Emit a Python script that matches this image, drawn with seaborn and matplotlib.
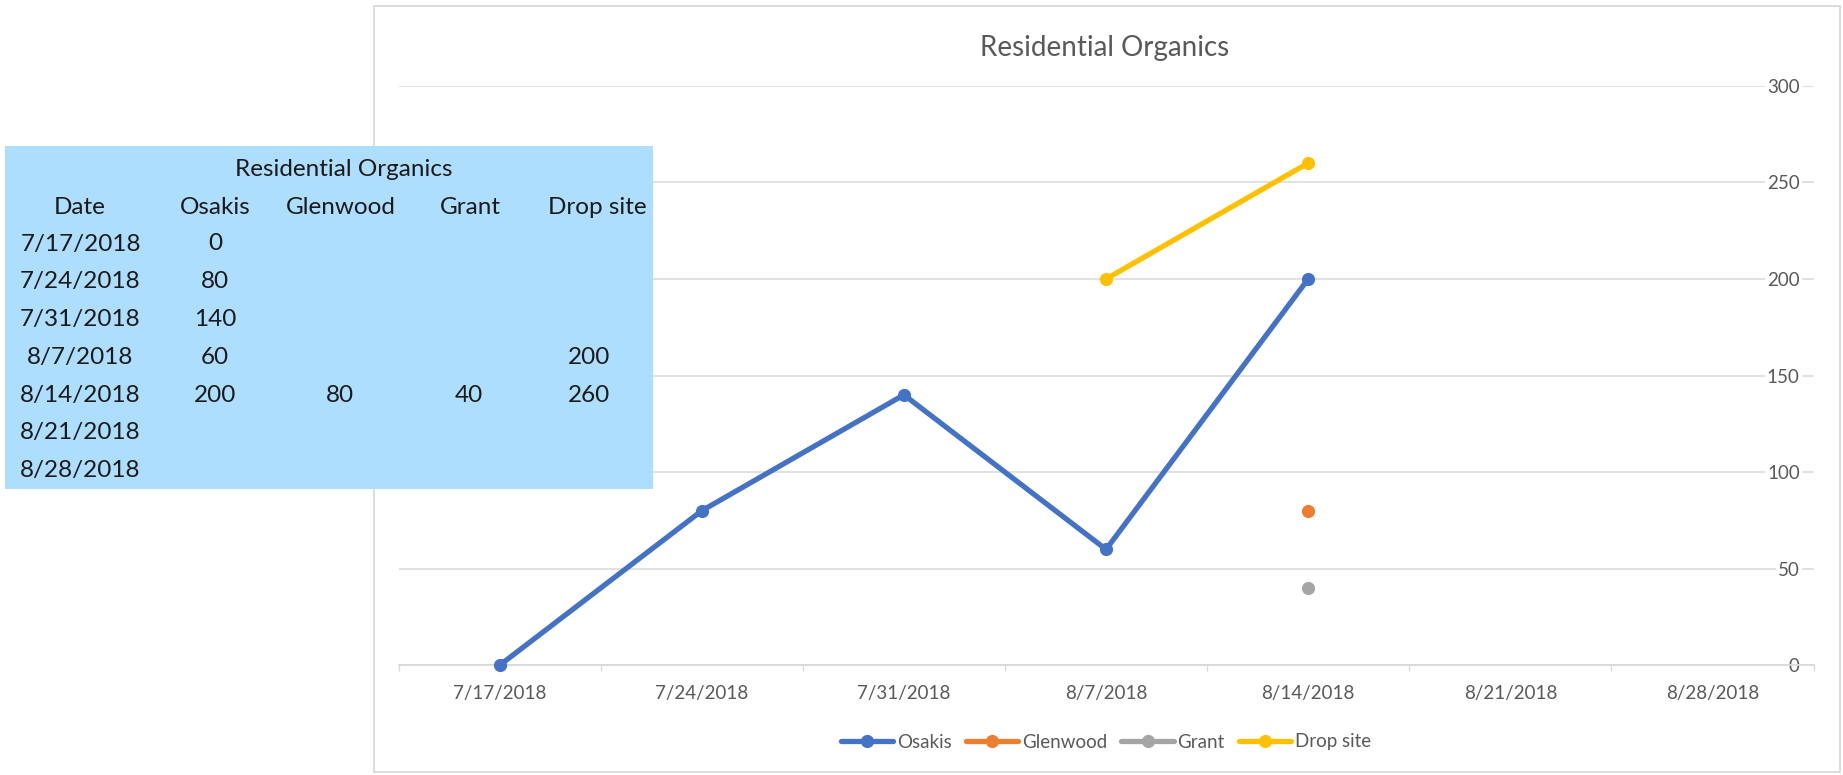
import numpy as np
import pandas as pd
import matplotlib
matplotlib.use("Agg")
import matplotlib.pyplot as plt
import seaborn as sns
from matplotlib.patches import Rectangle
from matplotlib.lines import Line2D

# ---- data ----
title = "Residential Organics"
dates = ["7/17/2018", "7/24/2018", "7/31/2018", "8/7/2018",
         "8/14/2018", "8/21/2018", "8/28/2018"]
osakis = [0, 80, 140, 60, 200, np.nan, np.nan]
glenwood = [np.nan, np.nan, np.nan, np.nan, 80, np.nan, np.nan]
grant = [np.nan, np.nan, np.nan, np.nan, 40, np.nan, np.nan]
drop_site = [np.nan, np.nan, np.nan, 200, 260, np.nan, np.nan]
series_names = ["Osakis", "Glenwood", "Grant", "Drop site"]
y_ticks = [0, 50, 100, 150, 200, 250, 300]

colors = ["#4472C4", "#ED7D31", "#A5A5A5", "#FFC000"]
series_values = [osakis, glenwood, grant, drop_site]

sns.set_theme(style="white")
plt.rcParams["font.family"] = ["Lato", "DejaVu Sans"]

W, H = 1843, 775
fig = plt.figure(figsize=(W / 100, H / 100), dpi=100)
fig.patch.set_facecolor("white")

ax = fig.add_axes([398.5 / W, 1 - 665.3 / H, (1813.6 - 398.5) / W, (665.3 - 85.8) / H])

df = pd.DataFrame({"x": np.arange(len(dates))})
for n, v in zip(series_names, series_values):
    df[n] = v
long = df.melt(id_vars="x", var_name="site", value_name="value").dropna()

LW, MS = 3.8, 9.5
sns.lineplot(data=long, x="x", y="value", hue="site", hue_order=series_names,
             palette=colors, marker="o", markersize=MS, markeredgewidth=0,
             linewidth=LW, errorbar=None, legend=False, ax=ax, clip_on=False,
             zorder=3)

ax.set_xlim(-0.5, len(dates) - 0.5)
ax.set_ylim(y_ticks[0], y_ticks[-1])
ax.set_xlabel("")
ax.set_ylabel("")
ax.set_facecolor("none")

for s in ["top", "left", "right"]:
    ax.spines[s].set_visible(False)
ax.spines["bottom"].set_color("#d9d9d9")
ax.spines["bottom"].set_linewidth(1.3)

ax.grid(axis="y", color="#d9d9d9", linewidth=1.1)
ax.grid(axis="x", visible=False)
ax.set_axisbelow(True)

ax.set_xticks(np.arange(len(dates)))
ax.set_xticklabels(dates)
ax.set_xticks(np.arange(-0.5, len(dates), 1), minor=True)
ax.tick_params(axis="x", which="major", bottom=True, length=0, pad=14,
               labelsize=13.5, labelcolor="#595959")
ax.tick_params(axis="x", which="minor", bottom=True, length=4.5, width=1,
               color="#d9d9d9")

ax.set_yticks(y_ticks)
ax.yaxis.tick_right()
ax.tick_params(axis="y", right=True, left=False, labelright=True, labelleft=False,
               length=0, pad=-10, labelsize=13.5, labelcolor="#595959")
for t in ax.get_yticklabels():
    t.set_horizontalalignment("right")
    t.set_bbox(dict(facecolor="white", edgecolor="none", pad=1.5))

handles = [Line2D([0], [0], color=c, lw=LW, marker="o", markersize=MS,
                  markeredgewidth=0) for c in colors]
fig.legend(handles, series_names, loc="center", bbox_to_anchor=(1106 / W, 1 - 742 / H),
           ncol=4, frameon=False, fontsize=13.5, handlelength=2.8,
           handletextpad=0.2, columnspacing=0.75, labelcolor="#595959")

# ---- overlay: chart border, title and data table ----
oax = fig.add_axes([0, 0, 1, 1], zorder=10)
oax.set_xlim(0, W)
oax.set_ylim(H, 0)
oax.axis("off")
oax.patch.set_alpha(0)

oax.add_patch(Rectangle((374, 6), 1466, 766, facecolor="none",
                        edgecolor="#d9d9d9", linewidth=1.3))
oax.text(1105, 48, title, ha="center", va="center", fontsize=20, color="#595959")

oax.add_patch(Rectangle((5, 146), 648, 343, facecolor="#ADDEFE", edgecolor="none"))
tc = "#1a1a1a"
tfs = 17.5
oax.text(344, 169, title, ha="center", va="center", fontsize=tfs, color=tc)
header_x = [80, 215, 341, 470, 597]
for hx, lab in zip(header_x, ["Date"] + series_names):
    oax.text(hx, 207, lab, ha="center", va="center", fontsize=tfs, color=tc)
value_x = [215, 340, 469, 589]
for i, d in enumerate(dates):
    ry = 244 + i * 37.8
    oax.text(80.5, ry, d, ha="center", va="center", fontsize=tfs, color=tc)
    for vx, vals in zip(value_x, series_values):
        v = vals[i]
        if not np.isnan(v):
            oax.text(vx, ry, f"{int(v)}", ha="center", va="center",
                     fontsize=tfs, color=tc)

fig.savefig("out.png", dpi=100, facecolor="white")
